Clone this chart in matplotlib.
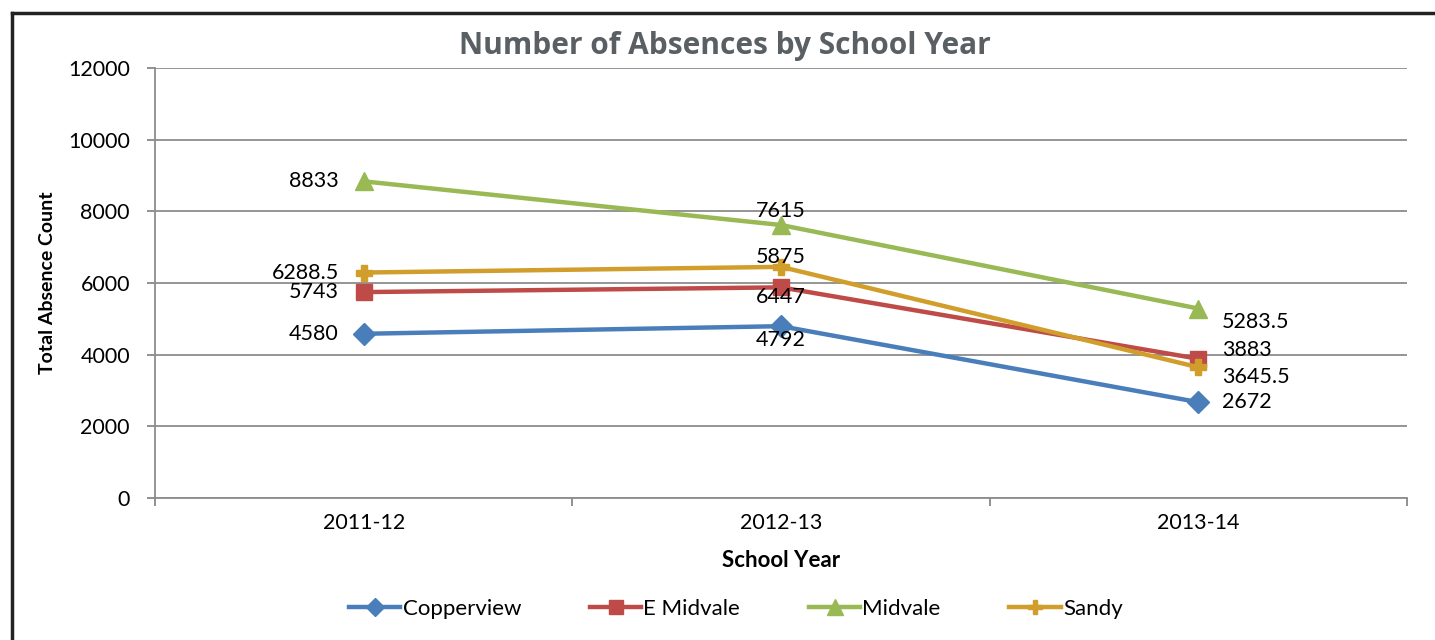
import matplotlib.pyplot as plt
from matplotlib.lines import Line2D

years = ['2011-12', '2012-13', '2013-14']
copperview = [4580, 4792, 2672]
e_midvale = [5743, 5875, 3883]
midvale = [8833, 7615, 5283.5]
sandy = [6288.5, 6447, 3645.5]

names = ['Copperview', 'E Midvale', 'Midvale', 'Sandy']
colors = ['#4a7ebb', '#be4b48', '#98b954', '#d19d2b']
markers = ['D', 's', '^', 'P']
sizes = [11, 12, 13, 12]
series = [copperview, e_midvale, midvale, sandy]

# label placement (offset in points, alignment) per point, as in the chart
offsets = [
    [(-18, 0, 'right'), (0, -10, 'center'), (17, 0, 'left')],
    [(-18, 0, 'right'), (0, 22, 'center'), (17, 6.5, 'left')],
    [(-18, 0, 'right'), (0, 10, 'center'), (17, -9.5, 'left')],
    [(-18, 0, 'right'), (0, -22, 'center'), (17, -7, 'left')],
]

plt.rcParams['font.family'] = ['Lato', 'DejaVu Sans']

fig = plt.figure(figsize=(14.35, 6.4), dpi=100)
ax = fig.add_axes([0.108, 0.222, 0.8725, 0.672])

x = range(len(years))
for vals, name, c, m, s in zip(series, names, colors, markers, sizes):
    ax.plot(x, vals, color=c, lw=3.2, marker=m, markersize=s,
            markeredgecolor=c, label=name, zorder=3)

for vals, offs in zip(series, offsets):
    for i, v in enumerate(vals):
        dx, dy, ha = offs[i]
        ax.annotate('%g' % v, (i, v), xytext=(dx, dy), textcoords='offset points',
                    ha=ha, va='center', fontsize=15.5, color='black')

ax.set_xlim(-0.5, 2.5)
ax.set_ylim(0, 12000)
ax.set_yticks(range(0, 12001, 2000))
ax.set_xticks([-0.5, 0.5, 1.5, 2.5])
ax.set_xticklabels([])
ax.set_xticks([0, 1, 2], minor=True)
ax.set_xticklabels(years, minor=True, fontsize=15.5)
ax.tick_params(axis='x', which='minor', length=0, pad=11)
ax.tick_params(axis='x', which='major', length=6, color='#888888', width=1.3)
ax.tick_params(axis='y', length=6, color='#888888', width=1.3, labelsize=15.5, pad=12)

ax.grid(axis='y', color='#8c8c8c', lw=1.3)
ax.set_axisbelow(True)
for sp in ['top', 'right']:
    ax.spines[sp].set_visible(False)
for sp in ['left', 'bottom']:
    ax.spines[sp].set_color('#8c8c8c')
    ax.spines[sp].set_linewidth(1.3)

ax.set_ylabel('Total Absence Count', fontsize=14, fontweight='bold', labelpad=9)
ax.set_xlabel('School Year', fontsize=16, fontweight='bold', labelpad=12)

fig.text(0.505, 0.928, 'Number of Absences by School Year', ha='center', va='center',
         fontsize=21.5, fontweight='bold', color='#595f63', family=['Open Sans', 'DejaVu Sans'])

ax.legend(loc='upper center', bbox_to_anchor=(0.464, -0.188), ncol=4, frameon=False,
          fontsize=16, handlelength=2.3, handletextpad=0.1, columnspacing=3.1,
          markerscale=0.85)

# outer frame (left and top edges)
fig.add_artist(Line2D([0.0085, 0.0085], [0, 0.98], transform=fig.transFigure,
                      color='#222222', lw=2.5))
fig.add_artist(Line2D([0.0085, 1.0], [0.98, 0.98], transform=fig.transFigure,
                      color='#222222', lw=2.5))

fig.savefig('out.png', dpi=100)
